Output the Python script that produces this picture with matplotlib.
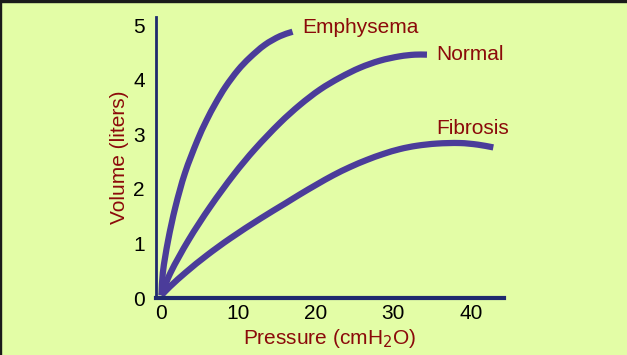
import matplotlib
matplotlib.use("Agg")
import numpy as np
import matplotlib.pyplot as plt
from matplotlib.patches import Rectangle, PathPatch
from matplotlib.path import Path

# Data
emph_x = [0.06, 0.23, 0.92, 1.86, 3.09, 4.70, 5.89, 7.05, 8.33, 9.96, 11.43, 13.41, 15.38, 16.99]
emph_y = [0.05, 0.46, 1.06, 1.67, 2.29, 2.89, 3.26, 3.57, 3.87, 4.18, 4.40, 4.64, 4.80, 4.88]
norm_x = [0.06, 1.18, 3.55, 6.34, 9.44, 12.14, 15.37, 17.95, 20.53, 23.12, 25.70, 28.28, 30.87, 32.8, 34.35]
norm_y = [0.05, 0.45, 1.06, 1.67, 2.27, 2.73, 3.21, 3.54, 3.82, 4.04, 4.22, 4.35, 4.43, 4.46, 4.46]
fib_x = [0.06, 1.16, 3.20, 5.90, 8.91, 12.89, 16.12, 17.95, 20.11, 22.25, 24.41, 26.57, 28.71,
         30.87, 33.02, 35.61, 38.62, 40.94, 42.92]
fib_y = [0.05, 0.21, 0.47, 0.78, 1.09, 1.46, 1.74, 1.90, 2.08, 2.25, 2.40, 2.53, 2.64,
         2.73, 2.79, 2.83, 2.84, 2.81, 2.76]
x_ticks = [0, 10, 20, 30, 40]
y_ticks = [0, 1, 2, 3, 4, 5]
labels = ["Emphysema", "Normal", "Fibrosis"]
label_pos = [(18.2, 4.96), (35.5, 4.47), (35.5, 3.11)]

BG = "#E3FDA6"
LINE = "#4B3C9A"
AX = "#1F2A6E"
RED = "#8B0A0A"

plt.rcParams['font.family'] = ['Liberation Sans', 'DejaVu Sans']


def smooth_path(xs, ys, ax):
    """Smooth curve through the points: cubic Bezier segments whose handles follow
    the local direction (computed in display space, so no overshoot)."""
    pts = ax.transData.transform(np.column_stack([xs, ys]))
    n = len(pts)
    tang = []
    for i in range(n):
        a = pts[max(i - 1, 0)]
        b = pts[min(i + 1, n - 1)]
        d = b - a
        tang.append(d / np.hypot(*d))
    verts = [pts[0]]
    codes = [Path.MOVETO]
    for i in range(n - 1):
        p1, p2 = pts[i], pts[i + 1]
        L = np.hypot(*(p2 - p1)) / 3.0
        verts += [p1 + tang[i] * L, p2 - tang[i + 1] * L, p2]
        codes += [Path.CURVE4] * 3
    verts = ax.transData.inverted().transform(np.array(verts))
    return Path(verts, codes)


fig = plt.figure(figsize=(6.27, 3.55), dpi=100, facecolor=BG)
ax = fig.add_axes([156/627, 57/355, (504-156)/627, (298-17)/355])
ax.set_facecolor(BG)
ax.set_xlim(-0.65, 44.3)
ax.set_ylim(0, 5.15)

for xs, ys in [(emph_x, emph_y), (norm_x, norm_y), (fib_x, fib_y)]:
    patch = PathPatch(smooth_path(xs, ys, ax), facecolor='none', edgecolor=LINE,
                      lw=4.5, capstyle='butt', joinstyle='round', zorder=3, clip_on=False)
    ax.add_patch(patch)

for s in ['top', 'right']:
    ax.spines[s].set_visible(False)
ax.spines['left'].set_color(AX)
ax.spines['left'].set_linewidth(2)
ax.spines['bottom'].set_color(AX)
ax.spines['bottom'].set_linewidth(3)
ax.spines['left'].set_zorder(4)
ax.spines['bottom'].set_zorder(4)
ax.set_xticks(x_ticks)
ax.set_yticks(y_ticks)
ax.tick_params(length=0, labelsize=15, colors='black')
ax.tick_params(axis='x', pad=4)
ax.tick_params(axis='y', pad=8)
ax.set_xlabel("Pressure (cmH$_2$O)", color=RED, fontsize=15, labelpad=3)
ax.set_ylabel("Volume (liters)", color=RED, fontsize=15, labelpad=3)

for lab, (lx, ly) in zip(labels, label_pos):
    ax.text(lx, ly, lab, color=RED, fontsize=15, va='center', ha='left')

# dark frame edges
fig.patches.append(Rectangle((0, 1 - 2/355), 1, 2/355, transform=fig.transFigure, color='#1a1a1a', zorder=10))
fig.patches.append(Rectangle((0, 0), 1/627, 1, transform=fig.transFigure, color='#1a1a1a', zorder=10))

fig.savefig("out.png", dpi=100, facecolor=BG)
